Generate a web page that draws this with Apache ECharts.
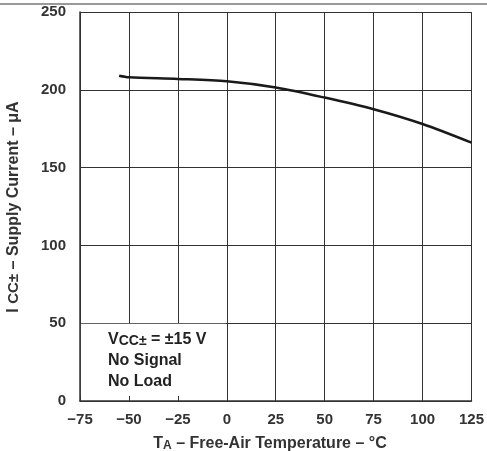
<!DOCTYPE html>
<html>
<head>
<meta charset="utf-8">
<script src="https://cdn.jsdelivr.net/npm/echarts@6/dist/echarts.min.js"></script>
<style>
  html, body { margin: 0; padding: 0; background: #fff; }
  #echart_box { width: 487px; height: 451px; }
</style>
</head>
<body>
<div id="echart_box"></div>
<script>
// temperature (°C) and supply current (uA)
let tempArr = [-55, -50, -25, 0, 25, 50, 75, 100, 125]
let currentArr = [209, 208, 207, 205.5, 201.5, 195, 187.5, 178, 166]
let noteLines = ['{v|V}{s|CC±}{v| = ±15 V}', 'No Signal', 'No Load']

let font = '"Liberation Sans", Arial, sans-serif'
let labelFmt = function (value) {
    return String(value).replace('-', '\u2212')
}
let myChart = echarts.init(document.getElementById('echart_box'))
let option = {
    animation: false,
    textStyle: { fontFamily: font },
    grid: { left: 80, right: 15, top: 12, bottom: 50 },
    xAxis: [
        {
            type: 'value', min: -75, max: 125, interval: 25,
            axisLine: { show: false, onZero: false },
            axisTick: { show: false },
            axisLabel: { color: '#333', fontWeight: 'bold', fontSize: 15, margin: 11, fontFamily: font, formatter: labelFmt },
            splitLine: { show: true, lineStyle: { color: '#333', width: 1 } }
        },
        {
            // overlay axis: only the frame line and the inner ticks
            type: 'value', min: -75, max: 125, interval: 25, position: 'bottom', z: 10,
            axisLine: { show: true, onZero: false, lineStyle: { color: '#333', width: 1.5 } },
            axisTick: { show: true, inside: true, length: 5, lineStyle: { color: '#333' } },
            axisLabel: { show: false },
            splitLine: { show: false }
        }
    ],
    yAxis: [
        {
            type: 'value', min: 0, max: 250, interval: 50,
            axisLine: { show: false, onZero: false },
            axisTick: { show: false },
            axisLabel: { color: '#333', fontWeight: 'bold', fontSize: 15, margin: 14, fontFamily: font },
            splitLine: { show: true, lineStyle: { color: '#333', width: 1 } }
        },
        {
            type: 'value', min: 0, max: 250, interval: 50, position: 'left', z: 10,
            axisLine: { show: true, onZero: false, lineStyle: { color: '#333', width: 1.5 } },
            axisTick: { show: false },
            axisLabel: { show: false },
            splitLine: { show: false }
        }
    ],
    series: [
        {
            type: 'line',
            data: tempArr.map((t, i) => [t, currentArr[i]]),
            smooth: 0.3,
            symbol: 'none',
            lineStyle: { color: '#1a1a1a', width: 2.5 },
            z: 5,
            markArea: {
                silent: true,
                itemStyle: { color: '#fff' },
                data: [[{ coord: [-74.6, 0.6] }, { coord: [-0.6, 49.6] }]]
            }
        }
    ],
    graphic: [
        {
            type: 'rect', left: 0, top: 3, z: 20,
            shape: { width: 487, height: 2 },
            style: { fill: '#999' }
        },
        {
            type: 'text', left: 108, top: 329, z: 20,
            style: {
                text: noteLines.join('\n'),
                font: 'bold 16px ' + font,
                fill: '#222',
                lineHeight: 21,
                rich: {
                    v: { font: 'bold 16px ' + font, fill: '#222', lineHeight: 21 },
                    s: { font: 'bold 14px ' + font, fill: '#222', padding: [4, 0, 0, 0], lineHeight: 21 }
                }
            }
        },
        {
            type: 'text', x: 270, y: 444, z: 20,
            style: {
                text: '{v|T}{s|A}{v| – Free-Air Temperature – °C}',
                align: 'center', verticalAlign: 'middle',
                rich: {
                    v: { font: 'bold 16px ' + font, fill: '#333' },
                    s: { font: 'bold 12px ' + font, fill: '#333', padding: [4, 0, 0, 0] }
                }
            }
        },
        {
            type: 'text', x: 14, y: 207, rotation: Math.PI / 2, z: 20,
            style: {
                text: '{v|I }{s|CC±}{v| – Supply Current – μA}',
                align: 'center', verticalAlign: 'middle',
                rich: {
                    v: { font: 'bold 16px ' + font, fill: '#333' },
                    s: { font: 'bold 15px ' + font, fill: '#333' }
                }
            }
        }
    ]
}
myChart.setOption(option)
</script>
</body>
</html>
